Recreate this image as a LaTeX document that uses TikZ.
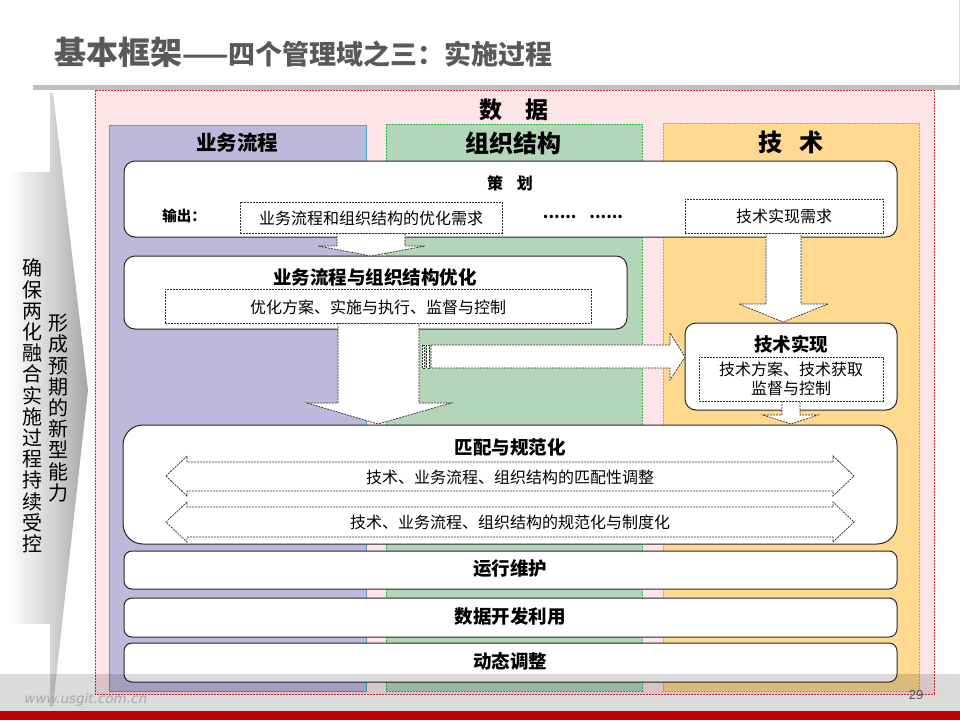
\documentclass[tikz,border=0pt]{standalone}
\usepackage{fontspec}
\setmainfont{Noto Sans CJK SC}
\newfontfamily\wmfont{DejaVu Sans}[FakeSlant=0.2]
\newfontfamily\numfont{Liberation Sans}
\definecolor{pinkbg}{HTML}{FDE4E6}
\definecolor{pinkline}{HTML}{D0303A}
\definecolor{purplebg}{HTML}{BDB9DB}
\definecolor{purpleline}{HTML}{4BA3D0}
\definecolor{greenbg}{HTML}{B3D6B8}
\definecolor{greenline}{HTML}{2DB84B}
\definecolor{orangebg}{HTML}{FFD990}
\definecolor{orangeline}{HTML}{E0A040}
\definecolor{titlegray}{HTML}{595959}
\definecolor{rulegray}{HTML}{BFBFBF}
\definecolor{redbar}{HTML}{C00000}
\definecolor{chevL}{HTML}{D6D6D6}
\definecolor{chevR}{HTML}{A4A4A4}
\definecolor{rectR}{HTML}{D0D0D0}
\definecolor{wmgray}{HTML}{A8A8A8}
\tikzset{
  rbox/.style={draw=black!85, fill=white, line width=1pt, rounded corners=11pt, inner sep=0},
  dbox/.style={draw=black!80, fill=white, dash pattern=on 2pt off 1pt, line width=0.75pt, inner sep=0},
  blockarrow/.style={draw=black!80, fill=white, dash pattern=on 2pt off 1pt, line width=0.75pt},
  lbl/.style={inner sep=0, font=\fontsize{16}{19}\selectfont},
  hd/.style={inner sep=0, font=\bfseries\fontsize{18.5}{20}\selectfont},
  colhd/.style={inner sep=0, font=\bfseries\fontsize{24}{26}\selectfont},
  vtext/.style={inner sep=0, align=center, font=\fontsize{20}{21.2}\selectfont},
}
\begin{document}
\begin{tikzpicture}[x=1pt,y=-1pt]
\useasboundingbox (0,0) rectangle (960,720);
\fill[white] (0,0) rectangle (960,720);

% title and rule
\node[anchor=west, inner sep=0, text=titlegray, font=\bfseries] (title) at (54,52)
  {\fontsize{32}{36}\selectfont 基本框架\fontsize{27}{30}\selectfont ——四个管理域之三：实施过程};
\fill[rulegray] (33,85) rectangle (960,90);
\draw[black!15, line width=1pt] (959,0) -- (959,85);

% data area and columns
\path[fill=pinkbg, draw=pinkline, dash pattern=on 2pt off 1pt, line width=0.6pt] (95,90) rectangle (934,694);
\path[fill=purplebg, draw=purpleline, line width=0.6pt] (109,125) rectangle (366,691);
\path[fill=greenbg, draw=greenline, dash pattern=on 2pt off 1pt, line width=0.6pt] (386,124) rectangle (642,691);
\path[fill=orangebg, draw=orangeline, dash pattern=on 2pt off 1pt, line width=0.6pt] (663,123) rectangle (919,691);

\node[inner sep=0, font=\bfseries\fontsize{23}{25}\selectfont] (data) at (514,110) {数\hspace{1em}据};
\node[inner sep=0, font=\bfseries\fontsize{20.5}{22}\selectfont] (hbiz) at (237,143) {业务流程};
\node[colhd] (horg) at (513,143) {组织结构};
\node[colhd] (htech) at (791,142) {技\hspace{0.7em}术};

% left side
\shade[left color=chevL, right color=chevR] (50,93) -- (53,93) -- (88,390) -- (53,706) -- (50,706) -- cycle;
\shade[left color=white, right color=rectR] (8,172) rectangle (53,623);
\node[vtext] (ensure) at (32,406) {确\\保\\两\\化\\融\\合\\实\\施\\过\\程\\持\\续\\受\\控};
\node[vtext] (form) at (58,408) {形\\成\\预\\期\\的\\新\\型\\能\\力};

% rounded boxes
\node[rbox, minimum width=773pt, minimum height=76pt] (plan) at (510.5,199) {};
\node[rbox, minimum width=503pt, minimum height=73pt] (opt) at (375.5,292.5) {};
\node[rbox, minimum width=212pt, minimum height=87pt] (techimpl) at (791,366.5) {};
\node[rbox, rounded corners=20pt, minimum width=774pt, minimum height=119pt] (match) at (510,484.5) {};
\node[rbox, rounded corners=8pt, minimum width=773pt, minimum height=38pt] (run) at (510.5,570) {};
\node[rbox, rounded corners=8pt, minimum width=773pt, minimum height=39pt] (dev) at (510.5,617.5) {};
\node[rbox, rounded corners=8pt, minimum width=773pt, minimum height=39pt] (adj) at (510.5,662.5) {};

% block arrows
\path[blockarrow] (337,233) -- (337,246) -- (318,246) -- (371,256) -- (425,246) -- (405,246) -- (405,233) -- cycle;
\path[blockarrow] (338,323) -- (338,403) -- (307,403) -- (378,424) -- (451,403) -- (419,403) -- (419,323) -- cycle;
\path[blockarrow] (766,233) -- (766,304) -- (739,304) -- (783,322) -- (828,304) -- (801,304) -- (801,233) -- cycle;
\path[blockarrow] (782,401) -- (782,415) -- (763,415) -- (791,424) -- (818,415) -- (800,415) -- (800,401) -- cycle;
\path[blockarrow] (431,345) -- (670,345) -- (670,333) -- (685,357) -- (670,380) -- (670,368) -- (431,368) -- cycle;
\path[blockarrow] (422,345) rectangle (424.5,368);
\path[blockarrow] (426.5,345) rectangle (429,368);
\path[blockarrow] (166,476) -- (187,456) -- (187,462) -- (833,462) -- (833,456) -- (854,476) -- (833,496) -- (833,491) -- (187,491) -- (187,496) -- cycle;
\path[blockarrow] (166,522) -- (187,502) -- (187,507) -- (833,507) -- (833,502) -- (854,522) -- (833,542) -- (833,537) -- (187,537) -- (187,542) -- cycle;

% dashed boxes
\node[dbox, minimum width=262pt, minimum height=31pt] (needA) at (371,217.5) {};
\node[dbox, minimum width=198pt, minimum height=34pt] (needB) at (784,216) {};
\node[dbox, minimum width=426pt, minimum height=34pt] (optin) at (378,306) {};
\node[dbox, minimum width=184pt, minimum height=44pt] (techin) at (791,379) {};

% texts
\node[inner sep=0, font=\bfseries\fontsize{16}{18}\selectfont] (tplan) at (510,183) {策\hspace{0.85em}划};
\node[inner sep=0, font=\bfseries\fontsize{14.5}{17}\selectfont] (tout) at (184,216) {输出：};
\node[lbl] (tneedA) at (371,218) {业务流程和组织结构的优化需求};
\node[inner sep=0, font=\bfseries\fontsize{16}{17}\selectfont] (tdots) at (583,217) {......\hspace{0.8em}......};
\node[lbl] (tneedB) at (784,216) {技术实现需求};
\node[hd] (topt) at (375,277) {业务流程与组织结构优化};
\node[lbl] (toptin) at (378,307) {优化方案、实施与执行、监督与控制};
\node[hd] (ttech) at (791,344) {技术实现};
\node[lbl, align=center] (ttechin) at (791,379) {技术方案、技术获取\\监督与控制};
\node[hd] (tmatch) at (510,447) {匹配与规范化};
\node[lbl] (tm1) at (510,477) {技术、业务流程、组织结构的匹配性调整};
\node[lbl] (tm2) at (510,522) {技术、业务流程、组织结构的规范化与制度化};
\node[hd] (trun) at (510,569) {运行维护};
\node[hd] (tdev) at (510,616) {数据开发利用};
\node[hd] (tadj) at (510,661) {动态调整};

% footer
\fill[black, opacity=0.14] (0,674) rectangle (960,711);
\fill[redbar] (0,711) rectangle (960,720);
\node[inner sep=0, text=wmgray, font=\wmfont\fontsize{13.5}{15}\selectfont] (wm) at (85,700) {www.usgit.com.cn};
\node[inner sep=0, text=titlegray, font=\numfont\fontsize{13}{15}\selectfont] (pg) at (916,695) {29};
\end{tikzpicture}
\end{document}
